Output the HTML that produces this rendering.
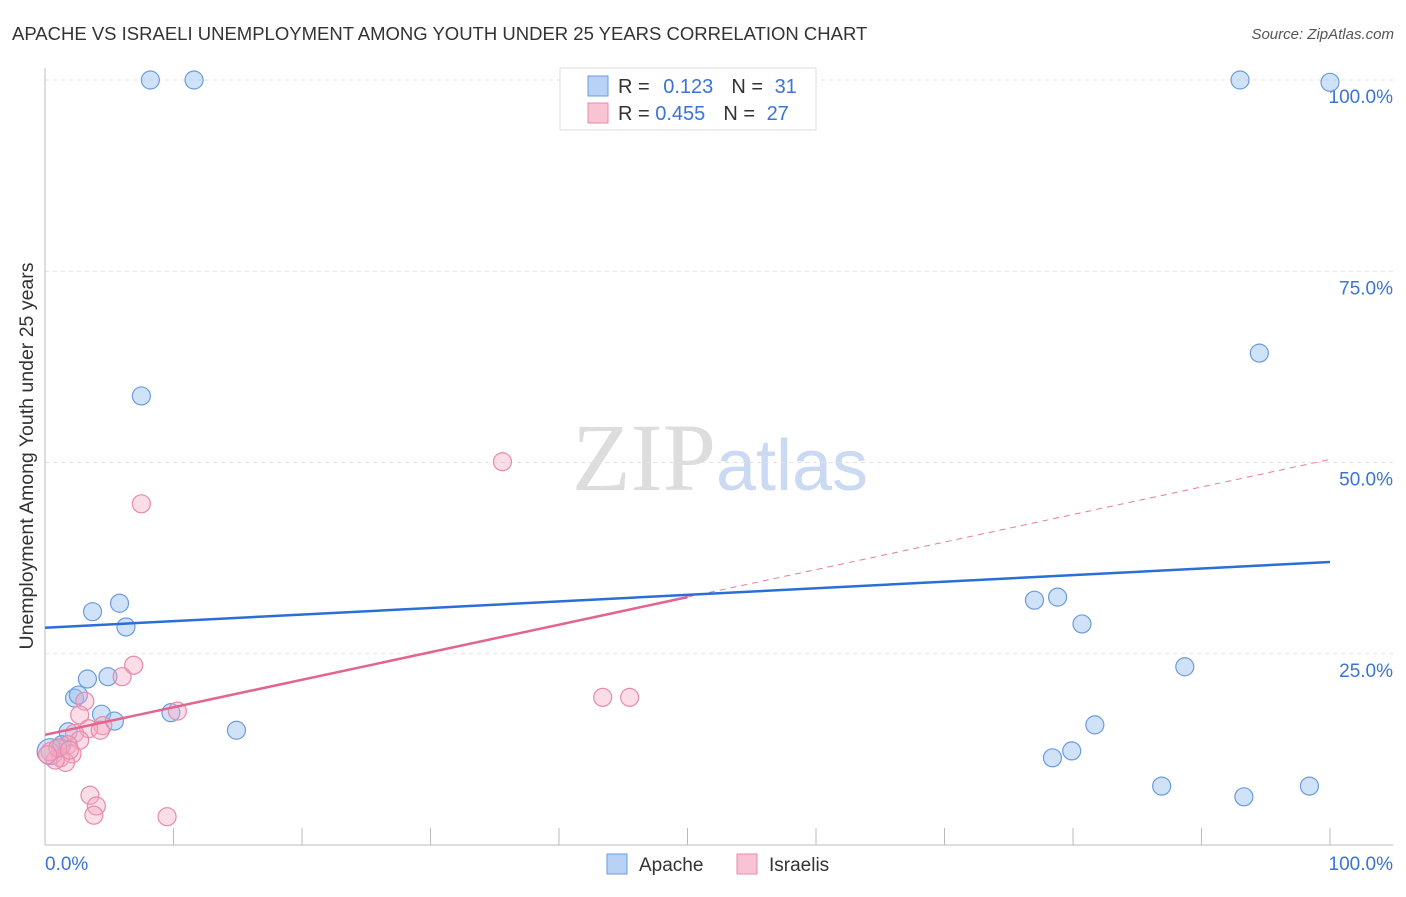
<!DOCTYPE html>
<html><head><meta charset="utf-8"><style>
body{margin:0;background:#fff;font-family:"Liberation Sans",sans-serif;}
</style></head><body>
<svg width="1406" height="892" xmlns="http://www.w3.org/2000/svg" font-family="Liberation Sans, sans-serif">
<text x="12" y="40" font-size="18.5" fill="#333">APACHE VS ISRAELI UNEMPLOYMENT AMONG YOUTH UNDER 25 YEARS CORRELATION CHART</text>
<text x="1394" y="39" font-size="15" fill="#555" font-style="italic" text-anchor="end">Source: ZipAtlas.com</text>
<text x="720" y="490" font-size="96" text-anchor="middle"><tspan fill="#ddd" font-family="Liberation Serif, serif">ZIP</tspan><tspan fill="#c9daf2" font-size="72">atlas</tspan></text>
<g id="grid"></g>
<g id="axes"></g>
<g id="marks"></g>
<text transform="translate(33,456) rotate(-90)" font-size="19.5" fill="#333" text-anchor="middle">Unemployment Among Youth under 25 years</text>
<g>
<rect x="560" y="68" width="256" height="62" fill="#fff" stroke="#ddd"/>
<rect x="588" y="76" width="20" height="20" fill="#b8d2f5" stroke="#6a9be0"/>
<rect x="588" y="103" width="20" height="20" fill="#f8c4d4" stroke="#e88aa8"/>
<text x="618" y="93" font-size="20" fill="#333">R = <tspan fill="#3a74d4" dx="8">0.123</tspan><tspan dx="18" fill="#333">N = </tspan><tspan fill="#3a74d4" dx="6">31</tspan></text>
<text x="618" y="120" font-size="20" fill="#333">R = <tspan fill="#3a74d4">0.455</tspan><tspan dx="18" fill="#333">N = </tspan><tspan fill="#3a74d4" dx="6">27</tspan></text>
</g>
<g>
<rect x="607" y="854" width="20" height="20" fill="#b8d2f5" stroke="#6a9be0"/>
<text x="639" y="871" font-size="19" fill="#333">Apache</text>
<rect x="737" y="854" width="20" height="20" fill="#f8c4d4" stroke="#e88aa8"/>
<text x="769" y="871" font-size="19" fill="#333">Israelis</text>
</g>
</svg>
<script>
const apacheX=[8.2,11.6,93.0,100,94.5,7.5,5.8,3.7,6.3,77.0,78.8,80.7,88.7,3.3,4.9,2.3,2.6,4.4,5.4,9.8,14.9,81.7,78.4,79.9,86.9,93.3,98.4,1.8,1.2,0.4,1.3];
const apacheY=[100,100,100,99.7,64.3,58.7,31.6,30.5,28.5,32.0,32.4,28.9,23.3,21.7,22.0,19.2,19.6,17.1,16.2,17.3,15.0,15.7,11.4,12.3,7.7,6.3,7.7,14.8,12.7,12.2,13.1];
const israelX=[35.6,7.5,6.9,6.0,3.1,2.7,10.3,4.5,3.4,2.3,2.7,43.4,45.5,1.8,2.1,1.2,1.6,0.8,3.5,4.0,3.8,9.5,0.4,1.0,0.2,4.3,1.9];
const israelY=[50.1,44.6,23.5,22.0,18.8,17.0,17.5,15.6,15.2,14.6,13.7,19.3,19.3,13.1,11.9,11.4,10.8,11.1,6.5,5.1,3.9,3.7,12.2,12.7,11.8,15.0,12.4];
const apacheTrend=[28.4,37.0];
const israelTrend=[14.4,50.4];
const yTicks=[25,50,75,100];
const yTickLabels=["25.0%","50.0%","75.0%","100.0%"];
const xTicks=[0,10,20,30,40,50,60,70,80,90,100];
const NS="http://www.w3.org/2000/svg";
const xs=v=>45+v*12.85, ys=v=>845-v*7.65;
function mk(p,t,a){const e=document.createElementNS(NS,t);for(const k in a)e.setAttribute(k,a[k]);document.getElementById(p).appendChild(e);return e;}
yTicks.forEach((v,i)=>{
 const l=mk('grid','line',{x1:45,x2:1393,y1:ys(v),y2:ys(v),stroke:'#e2e2e2','stroke-dasharray':'4,4'});
 
 
 const t=mk('grid','text',{x:1393,y:ys(v)+23,'font-size':19,fill:'#3a74d4','text-anchor':'end'});
 t.textContent=yTickLabels[i];
 
 
});
let a=mk('axes','line',{x1:45,x2:45,y1:68,y2:845,stroke:'#bbb'});


a=mk('axes','line',{x1:45,x2:1393,y1:845,y2:845,stroke:'#bbb'});


xTicks.forEach(v=>{const t=mk('axes','line',{x1:xs(v),x2:xs(v),y1:828,y2:845,stroke:'#bbb'});
 
 });
let t=mk('axes','text',{x:45,y:870,'font-size':19,fill:'#3a74d4'});t.textContent='0.0%';


t=mk('axes','text',{x:1393,y:870,'font-size':19,fill:'#3a74d4','text-anchor':'end'});t.textContent='100.0%';


apacheX.forEach((x,i)=>{const c=mk('marks','circle',{cx:xs(x),cy:ys(apacheY[i]),r:(i==29?13:9),fill:'rgba(150,190,240,0.45)',stroke:'#6a9be0','stroke-width':1.2});
 
 });
israelX.forEach((x,i)=>{const c=mk('marks','circle',{cx:xs(x),cy:ys(israelY[i]),r:9,fill:'rgba(245,170,195,0.4)',stroke:'#e88aa8','stroke-width':1.2});
 
 });
const iy=x=>israelTrend[0]+(israelTrend[1]-israelTrend[0])*x/100;
let l=mk('marks','line',{x1:xs(50),y1:ys(iy(50)),x2:xs(100),y2:ys(iy(100)),stroke:'#e87aa0','stroke-width':1,'stroke-dasharray':'6,5'});


l=mk('marks','line',{x1:xs(0),y1:ys(iy(0)),x2:xs(50),y2:ys(iy(50)),stroke:'#e4648f','stroke-width':2.5});


l=mk('marks','line',{x1:xs(0),y1:ys(apacheTrend[0]),x2:xs(100),y2:ys(apacheTrend[1]),stroke:'#2a6fd6','stroke-width':2.5});


</script>
</body></html>
